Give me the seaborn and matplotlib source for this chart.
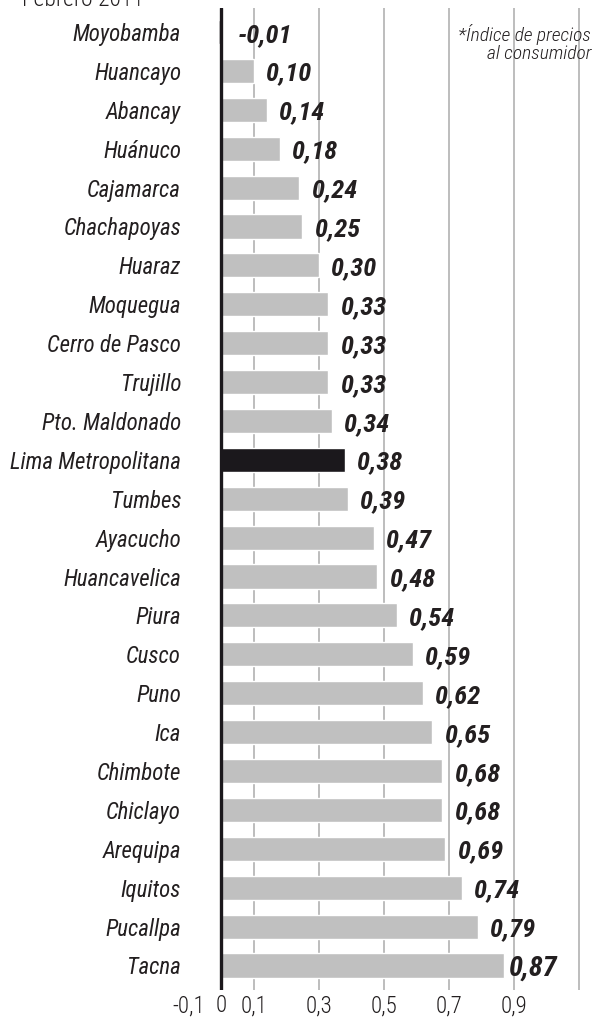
import matplotlib
matplotlib.use('Agg')
import matplotlib.pyplot as plt
import seaborn as sns
import pandas as pd

cities = ['Moyobamba', 'Huancayo', 'Abancay', 'Huánuco', 'Cajamarca', 'Chachapoyas',
          'Huaraz', 'Moquegua', 'Cerro de Pasco', 'Trujillo', 'Pto. Maldonado',
          'Lima Metropolitana', 'Tumbes', 'Ayacucho', 'Huancavelica', 'Piura', 'Cusco',
          'Puno', 'Ica', 'Chimbote', 'Chiclayo', 'Arequipa', 'Iquitos', 'Pucallpa', 'Tacna']
values = [-0.01, 0.10, 0.14, 0.18, 0.24, 0.25, 0.30, 0.33, 0.33, 0.33, 0.34, 0.38, 0.39,
          0.47, 0.48, 0.54, 0.59, 0.62, 0.65, 0.68, 0.68, 0.69, 0.74, 0.79, 0.87]
highlight = 'Lima Metropolitana'
tick_vals = [-0.1, 0, 0.1, 0.3, 0.5, 0.7, 0.9]
grid_vals = [0.1, 0.3, 0.5, 0.7, 0.9, 1.1]

FONT = ['Roboto Condensed', 'Fira Sans Condensed', 'DejaVu Sans']
INK = '#231f20'

sns.set_theme(style='white')
plt.rcParams['font.family'] = FONT

df = pd.DataFrame({'city': cities, 'value': values})
palette = {c: ('#1b181c' if c == highlight else '#c0c0c0') for c in cities}

fig = plt.figure(figsize=(5.94, 10.17), dpi=100)
ax = fig.add_axes([0.3119, 0.02655, 0.684, 0.9656])

for g in grid_vals:
    ax.axvline(g, color='#b8b8b8', lw=1.3, zorder=0)

sns.barplot(data=df, x='value', y='city', hue='city', palette=palette,
            legend=False, width=0.62, saturation=1, ax=ax, zorder=2)
ax.axvline(0, color='#1b181c', lw=2.4, zorder=3)

# value labels, Tacna set heavier and tighter to its bar
for i, (c, v) in enumerate(zip(cities, values)):
    txt = f'{v:.2f}'.replace('.', ',')
    big = (c == 'Tacna')
    if big:
        dx = 4
    elif v < 0:
        dx = 12
    else:
        dx = 9
    ax.annotate(txt, (max(v, 0), i), xytext=(dx, -2),
                textcoords='offset points', ha='left', va='center',
                fontsize=20.5 if big else 19, fontweight=900 if big else 'bold',
                fontstyle='italic', color=INK)

ax.set_xlim(-0.11, 1.14)
ax.set_ylim(24.63, -0.617)
ax.set_xticks(tick_vals)
ax.set_xticklabels([('0' if t == 0 else f'{t:.1f}'.replace('.', ',')) for t in tick_vals],
                   fontsize=16.5, color=INK, fontweight=300)
ax.tick_params(axis='x', length=0, pad=3)
ax.tick_params(axis='y', length=0, pad=3)
for lbl in ax.get_yticklabels():
    lbl.set_fontstyle('italic')
    lbl.set_fontsize(16.5)
    lbl.set_fontweight('normal')
    lbl.set_color(INK)
ax.set_xlabel('')
ax.set_ylabel('')
for s in ax.spines.values():
    s.set_visible(False)

fig.text(0.995, 0.957, '*Índice de precios\nal consumidor', ha='right', va='center',
         fontsize=14, fontstyle='italic', fontweight=300, color=INK, linespacing=1.0)
fig.text(0.037, 0.9941, 'Febrero 2011', ha='left', va='baseline', fontsize=17,
         fontweight=300, color=INK)

fig.savefig('out.png', dpi=100)
plt.close(fig)
